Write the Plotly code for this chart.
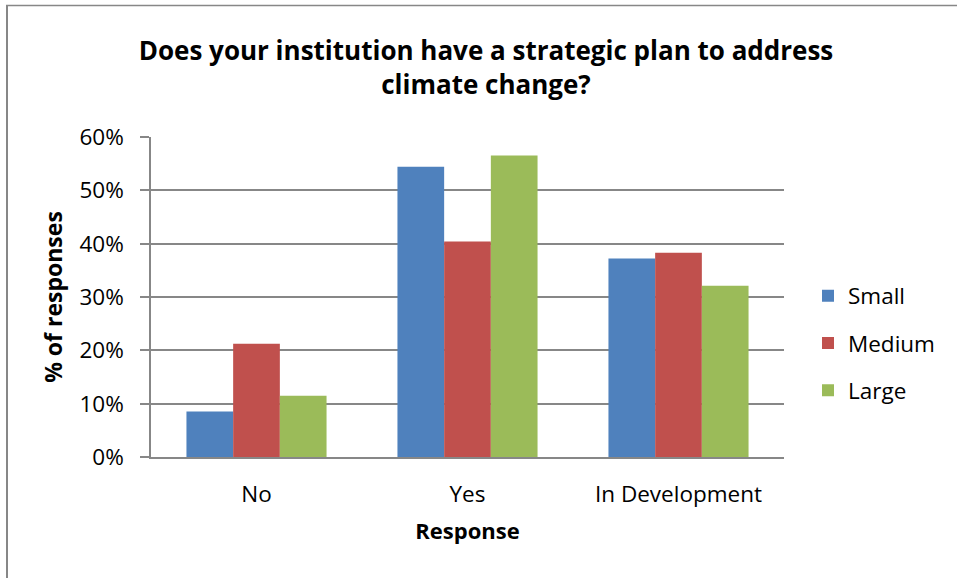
import plotly.graph_objects as go

categories = ["No", "Yes", "In Development"]
series_names = ["Small", "Medium", "Large"]
small = [0.0855, 0.544, 0.372]
medium = [0.2125, 0.404, 0.383]
large = [0.115, 0.5655, 0.321]
colors = ["#4F81BD", "#C0504D", "#9BBB59"]
y_ticks = [0, 0.1, 0.2, 0.3, 0.4, 0.5, 0.6]
y_ticklabels = ["0%", "10%", "20%", "30%", "40%", "50%", "60%"]

W, H = 957, 578
ML, MR, MT, MB = 151, 173, 137, 121
PW, PH = W - ML - MR, H - MT - MB


def px_x(px):
    return (px - ML) / PW


def px_y(py):
    return (H - MB - py) / PH


fig = go.Figure()
for name, vals, col in zip(series_names, [small, medium, large], colors):
    fig.add_trace(go.Bar(
        x=categories, y=vals, name=name, marker_color=col,
        marker_line_width=0, legendgroup=name,
    ))

grid = "#878787"
fig.update_layout(
    width=W, height=H,
    margin=dict(l=ML, r=MR, t=MT, b=MB, pad=0),
    paper_bgcolor="white", plot_bgcolor="white",
    barmode="group", bargap=0.336, bargroupgap=0,
    font=dict(family="Open Sans, sans-serif", size=22.5, color="#000000"),
    title=dict(
        text="Does your institution have a strategic plan to address<br>climate change?",
        font=dict(family="Open Sans, sans-serif", size=26, color="#000000", weight="bold"),
        x=px_x(486), xref="paper", xanchor="center",
        y=1 - 60 / H, yref="container", yanchor="middle",
    ),
    legend=dict(
        x=px_x(808), xanchor="left", y=px_y(343), yanchor="middle",
        font=dict(size=22.5), tracegroupgap=15, bgcolor="rgba(0,0,0,0)",
        itemwidth=30,
    ),
    xaxis=dict(
        showline=True, linecolor=grid, linewidth=1.5,
        ticks="", ticklabelstandoff=16,
        title=dict(text="Response", font=dict(size=22, weight="bold"), standoff=16),
        showgrid=False,
    ),
    yaxis=dict(
        range=[0, 0.6], tickvals=y_ticks, ticktext=y_ticklabels,
        showgrid=True, gridcolor=grid, gridwidth=1.5,
        showline=True, linecolor=grid, linewidth=1.5,
        ticks="outside", ticklen=9, tickcolor=grid, tickwidth=1.5,
        ticklabelstandoff=12,
        title=dict(text="% of responses", font=dict(size=23, weight="bold"), standoff=10),
        zeroline=False,
    ),
    shapes=[
        dict(type="line", xref="paper", yref="paper",
             x0=px_x(6), x1=px_x(957), y0=px_y(5.5), y1=px_y(5.5),
             line=dict(color=grid, width=1.5)),
        dict(type="line", xref="paper", yref="paper",
             x0=px_x(7), x1=px_x(7), y0=px_y(5), y1=px_y(578),
             line=dict(color=grid, width=2)),
    ],
)

fig.write_html("out.html")
